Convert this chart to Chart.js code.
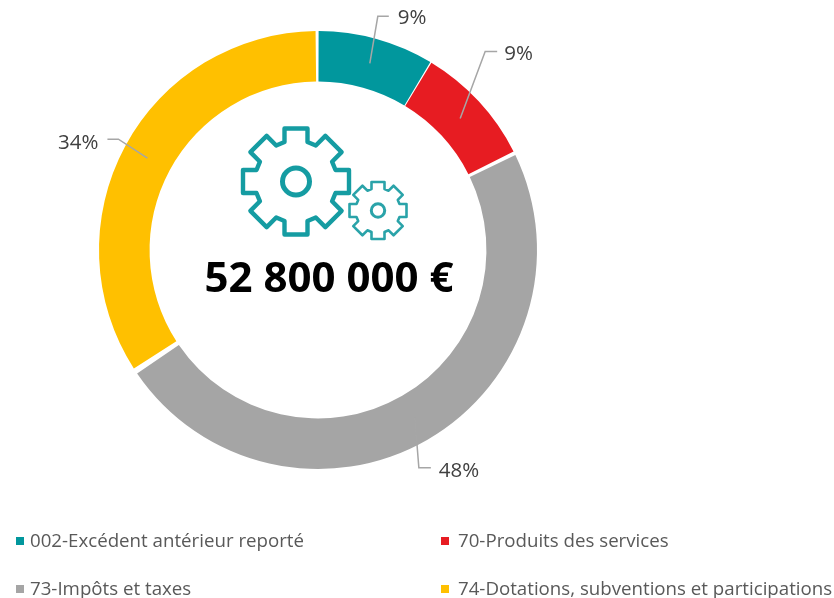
<!DOCTYPE html>
<html lang="fr">
<head>
<meta charset="utf-8">
<title>Recettes</title>
<script src="https://cdn.jsdelivr.net/npm/chart.js@4"></script>
<style>
html,body{margin:0;padding:0;background:#fff;}
#wrap{position:relative;width:834px;height:598px;}
canvas{display:block;}
</style>
</head>
<body>
<div id="wrap"><canvas id="c" width="834" height="598"></canvas></div>
<script>
const categories = ["002-Excédent antérieur reporté", "70-Produits des services", "73-Impôts et taxes", "74-Dotations, subventions et participations"];
const amounts = [4550000, 4750000, 25400000, 18100000];
const colors = ["#01979D", "#E71C22", "#A5A5A5", "#FFC000"];
const totalLabel = "52 800 000 €";

const FONT = '"Open Sans"';
const TEXT = "#404040";
// leader geometry, relative to each arc's centre point: elbow, then end of the leader, then label anchor
const leaders = [
  {elbow:[8,-47],  end:[19,-47],  label:[28,-45], align:"left"},
  {elbow:[25,-67], end:[37,-67],  label:[44,-64], align:"left"},
  {elbow:[4,50],   end:[16,50],   label:[24,53],  align:"left"},
  {elbow:[-29,-19],end:[-40,-19], label:[-49,-15],align:"right"}
];

function drawGear(ctx, cx, cy, R, r, w, teeth, hole, lw, holeLw, color){
  ctx.save();
  ctx.translate(cx, cy);
  ctx.strokeStyle = color;
  ctx.lineWidth = lw;
  ctx.lineJoin = "round";
  ctx.beginPath();
  for(let i=0;i<teeth;i++){
    const a = i*2*Math.PI/teeth;
    const c = Math.cos(a), s = Math.sin(a);
    const pts = [[-w,-r],[-w,-R],[w,-R],[w,-r]];
    pts.forEach(p=>{
      const x = p[0]*c - p[1]*s, y = p[0]*s + p[1]*c;
      if(i===0 && p===pts[0]) ctx.moveTo(x,y); else ctx.lineTo(x,y);
    });
  }
  ctx.closePath();
  ctx.stroke();
  ctx.lineWidth = holeLw;
  ctx.beginPath();
  ctx.arc(0,0,hole,0,2*Math.PI);
  ctx.stroke();
  ctx.restore();
}

const decor = {
  id:"decor",
  afterDraw(chart){
    const ctx = chart.ctx;
    const meta = chart.getDatasetMeta(0);
    const total = amounts.reduce((a,b)=>a+b,0);
    ctx.save();
    // leaders + percent labels
    meta.data.forEach((arc,i)=>{
      const p = arc.getCenterPoint();
      const l = leaders[i];
      ctx.beginPath();
      ctx.moveTo(p.x,p.y);
      ctx.lineTo(p.x+l.elbow[0],p.y+l.elbow[1]);
      ctx.lineTo(p.x+l.end[0],p.y+l.end[1]);
      ctx.strokeStyle = "#A6A6A6";
      ctx.lineWidth = 1.5;
      ctx.stroke();
      ctx.fillStyle = TEXT;
      ctx.font = "20.5px "+FONT;
      ctx.textAlign = l.align;
      ctx.textBaseline = "middle";
      ctx.fillText(Math.round(amounts[i]/total*100)+"%", p.x+l.label[0], p.y+l.label[1]);
    });
    // centre
    const cx = meta.data[0].x, cy = meta.data[0].y;
    ctx.fillStyle = "#000";
    ctx.font = "bold 42px "+FONT;
    ctx.textAlign = "center";
    ctx.textBaseline = "middle";
    ctx.fillText(totalLabel, cx+11, cy+30);
    drawGear(ctx, cx-22, cy-68.5, 53, 39.5, 11.5, 8, 13.5, 4.4, 5, "#159CA2");
    drawGear(ctx, cx+60, cy-39.5, 28.5, 21.5, 6.5, 8, 6.7, 2.6, 3, "#2AA3A9");
    // legend
    const cols = [[16,30], [441,458]], rows = [542, 590];
    categories.forEach((t,i)=>{
      const c = cols[i%2], y = rows[i>>1];
      ctx.fillStyle = colors[i];
      ctx.fillRect(c[0],y-5,8,8);
      ctx.fillStyle = "#595959";
      ctx.font = "18.7px "+FONT;
      ctx.textAlign = "left";
      ctx.textBaseline = "middle";
      ctx.fillText(t, c[1], y);
    });
    ctx.restore();
  }
};

new Chart(document.getElementById("c"),{
  type:"doughnut",
  data:{labels:categories,datasets:[{data:amounts,backgroundColor:colors,borderWidth:0,spacing:4,hoverOffset:0}]},
  plugins:[decor],
  options:{
    responsive:false,
    animation:false,
    cutout:"76.7%",
    layout:{padding:{left:99,right:297,top:31,bottom:129}},
    plugins:{legend:{display:false},tooltip:{enabled:false}}
  }
});
</script>
</body>
</html>
